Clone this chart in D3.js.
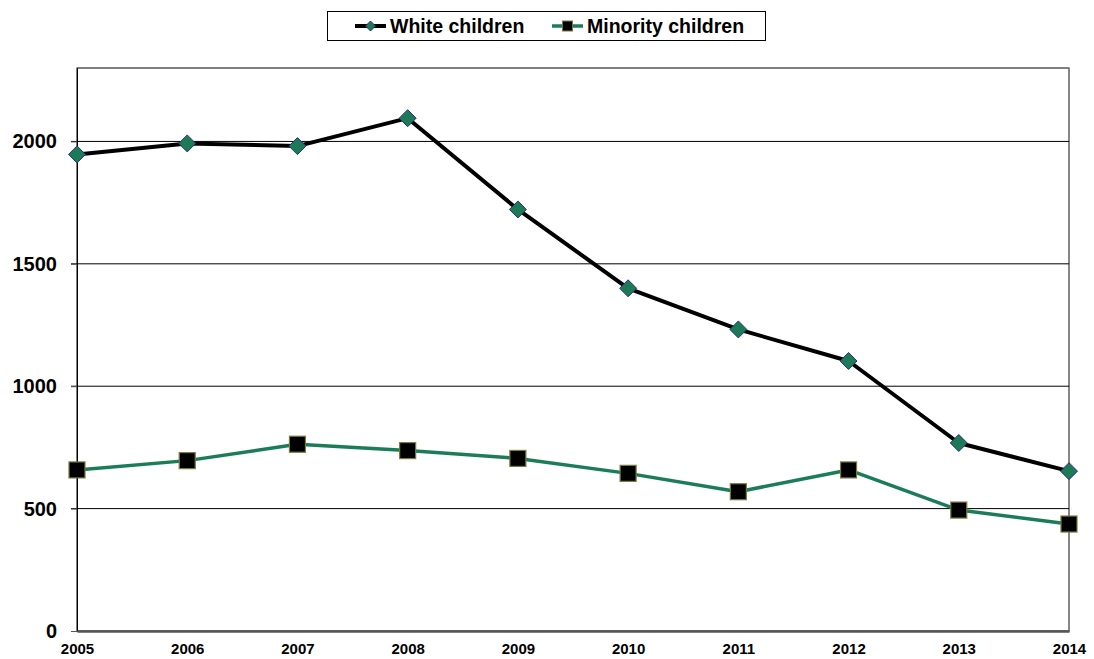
<!DOCTYPE html>
<html>
<head>
<meta charset="utf-8">
<script src="https://cdn.jsdelivr.net/npm/d3@7"></script>
<style>
  html, body { margin: 0; padding: 0; background: #fff; }
  svg { display: block; font-family: "Liberation Sans", Arial, sans-serif; }
</style>
</head>
<body>
<svg id="chart" width="1094" height="659"></svg>
<script>
// Yearly counts by group
const years = [2005, 2006, 2007, 2008, 2009, 2010, 2011, 2012, 2013, 2014];
const whiteChildren = [1947, 1992, 1981, 2095, 1722, 1400, 1232, 1103, 768, 653];
const minorityChildren = [658, 696, 763, 737, 705, 644, 569, 658, 494, 437];
const yTicks = [0, 500, 1000, 1500, 2000];
const seriesNames = ["White children", "Minority children"];

const svg = d3.select("#chart");
const margin = { left: 77, right: 25, top: 68, bottom: 28 };
const W = 1094, H = 659;

const x = d3.scalePoint().domain(years).range([margin.left, W - margin.right]);
const y = d3.scaleLinear().domain([0, 2300]).range([H - margin.bottom, margin.top]);

const lineGreen = "#1b7d57";
const diamondFill = "#1c7a55";
const diamondStroke = "#2e2e86";
const squareStroke = "#7a7a3a";

// Plot frame
svg.append("rect")
  .attr("x", margin.left).attr("y", margin.top)
  .attr("width", W - margin.right - margin.left)
  .attr("height", y(0) - margin.top)
  .attr("fill", "none").attr("stroke", "#000").attr("stroke-width", 1);
svg.append("line")
  .attr("x1", W - margin.right).attr("x2", W - margin.right)
  .attr("y1", margin.top).attr("y2", y(0))
  .attr("stroke", "#888").attr("stroke-width", 1.5);

// Horizontal gridlines
svg.append("g").selectAll("line")
  .data(yTicks.filter(d => d > 0))
  .join("line")
  .attr("x1", margin.left - 6).attr("x2", W - margin.right)
  .attr("y1", d => y(d)).attr("y2", d => y(d))
  .attr("stroke", "#000").attr("stroke-width", 1);

// Y axis
const yAxis = d3.axisLeft(y).tickValues(yTicks).tickSizeInner(6).tickSizeOuter(0)
  .tickPadding(14).tickFormat(d3.format("d"));
const gy = svg.append("g").attr("transform", `translate(${margin.left},0)`).call(yAxis);
gy.select(".domain").attr("stroke", "#000").attr("stroke-width", 1);
gy.selectAll(".tick line").attr("stroke", "#555");
gy.selectAll("text")
  .attr("font-size", 20).attr("font-weight", "bold").attr("fill", "#000")
  .attr("font-family", "Liberation Sans, Arial, sans-serif");

// X axis
const xAxis = d3.axisBottom(x).tickSize(0).tickPadding(12).tickFormat(d3.format("d"));
const gx = svg.append("g").attr("transform", `translate(0,${y(0)})`).call(xAxis);
gx.select(".domain").attr("stroke", "#555").attr("stroke-width", 2.5);
gx.selectAll("text")
  .attr("font-size", 15).attr("font-weight", "bold").attr("fill", "#000")
  .attr("font-family", "Liberation Sans, Arial, sans-serif");

// Lines
const line = d3.line().x((d, i) => x(years[i])).y(d => y(d));
svg.append("path").datum(whiteChildren)
  .attr("d", line).attr("fill", "none")
  .attr("stroke", "#000").attr("stroke-width", 4).attr("stroke-linejoin", "round");
svg.append("path").datum(minorityChildren)
  .attr("d", line).attr("fill", "none")
  .attr("stroke", lineGreen).attr("stroke-width", 3.5).attr("stroke-linejoin", "round");

// Markers
const diamond = s => `M0,${-s}L${s},0L0,${s}L${-s},0Z`;
svg.append("g").selectAll("path")
  .data(whiteChildren)
  .join("path")
  .attr("transform", (d, i) => `translate(${x(years[i])},${y(d)})`)
  .attr("d", diamond(8.5))
  .attr("fill", diamondFill).attr("stroke", diamondStroke).attr("stroke-width", 1);

svg.append("g").selectAll("rect")
  .data(minorityChildren)
  .join("rect")
  .attr("x", (d, i) => x(years[i]) - 8).attr("y", d => y(d) - 8)
  .attr("width", 16).attr("height", 16)
  .attr("fill", "#000").attr("stroke", squareStroke).attr("stroke-width", 1.2);

// Legend
const lg = svg.append("g");
lg.append("rect")
  .attr("x", 327.5).attr("y", 11.5).attr("width", 438).attr("height", 29)
  .attr("fill", "#fff").attr("stroke", "#000").attr("stroke-width", 1);

const items = [
  { name: seriesNames[0], x0: 355, color: "#000", w: 4, marker: "diamond" },
  { name: seriesNames[1], x0: 552, color: lineGreen, w: 3.5, marker: "square" }
];
items.forEach(it => {
  const cy = 26;
  lg.append("line")
    .attr("x1", it.x0).attr("x2", it.x0 + 31)
    .attr("y1", cy).attr("y2", cy)
    .attr("stroke", it.color).attr("stroke-width", it.w);
  const mx = it.x0 + 15.5;
  if (it.marker === "diamond") {
    lg.append("path").attr("transform", `translate(${mx},${cy})`)
      .attr("d", diamond(5))
      .attr("fill", diamondFill).attr("stroke", diamondStroke).attr("stroke-width", 1);
  } else {
    lg.append("rect").attr("x", mx - 5).attr("y", cy - 5)
      .attr("width", 10).attr("height", 10)
      .attr("fill", "#000").attr("stroke", squareStroke).attr("stroke-width", 1);
  }
  lg.append("text")
    .attr("x", it.x0 + 35).attr("y", cy + 7)
    .attr("font-size", 19.5).attr("font-weight", "bold").attr("fill", "#000")
    .text(it.name);
});
</script>
</body>
</html>
